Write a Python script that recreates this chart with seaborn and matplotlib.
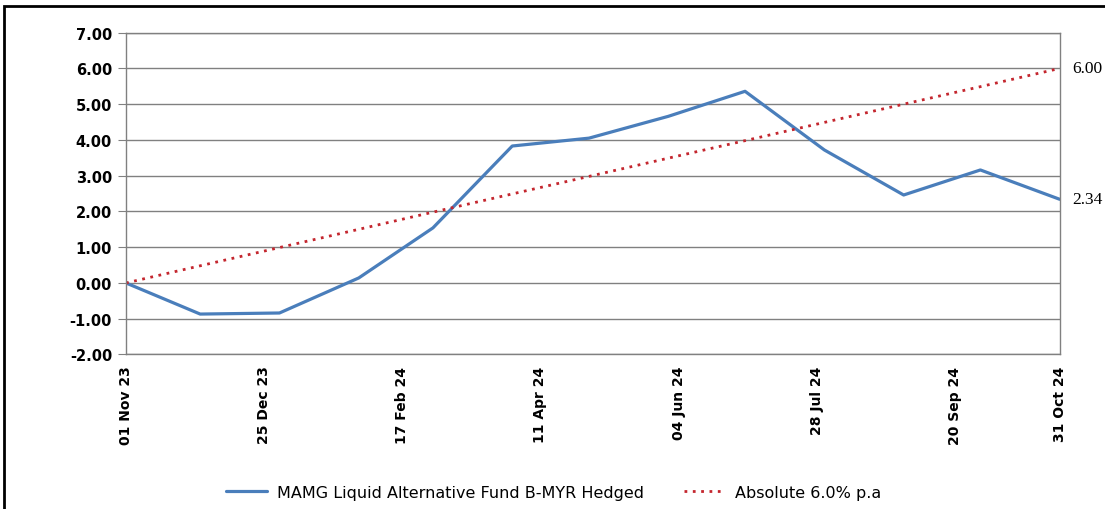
import matplotlib
matplotlib.use("Agg")
import matplotlib.pyplot as plt
import matplotlib.dates as mdates
from matplotlib.patches import Rectangle
import pandas as pd
import seaborn as sns

# data (month-end values, %)
dates = ["2023-11-01", "2023-11-30", "2023-12-31", "2024-01-31", "2024-02-29",
         "2024-03-31", "2024-04-30", "2024-05-31", "2024-06-30", "2024-07-31",
         "2024-08-31", "2024-09-30", "2024-10-31"]
fund = [0.00, -0.87, -0.84, 0.14, 1.54, 3.83, 4.05, 4.66, 5.36, 3.72, 2.46, 3.16, 2.34]
target = [0.00, 0.48, 0.99, 1.50, 1.98, 2.49, 2.98, 3.49, 3.98, 4.49, 5.00, 5.49, 6.00]

fund_name = "MAMG Liquid Alternative Fund B-MYR Hedged"
target_name = "Absolute 6.0% p.a"

tick_dates = ["2023-11-01", "2023-12-25", "2024-02-17", "2024-04-11",
              "2024-06-04", "2024-07-28", "2024-09-20", "2024-10-31"]
y_ticks = [-2, -1, 0, 1, 2, 3, 4, 5, 6, 7]

df = pd.DataFrame({"date": pd.to_datetime(dates), "fund": fund, "target": target})

sns.set_style("white")
plt.rcParams['font.family'] = ['DejaVu Sans']
plt.rcParams['text.color'] = 'black'
plt.rcParams['xtick.labelcolor'] = 'black'
plt.rcParams['ytick.labelcolor'] = 'black'

fig = plt.figure(figsize=(11.05, 5.1), dpi=100)
ax = fig.add_axes([0.114, 0.303, 0.845, 0.631])

sns.lineplot(data=df, x="date", y="fund", ax=ax, color="#4A7EBB", linewidth=2.3,
             label=fund_name)
sns.lineplot(data=df, x="date", y="target", ax=ax, color="#C4262E", linewidth=2.0,
             linestyle=(0, (1, 2.0)), label=target_name)

ax.set_xlim(df["date"].iloc[0], df["date"].iloc[-1])
ax.set_ylim(-2, 7)
ax.set_yticks(y_ticks)
ax.set_yticklabels([f"{v:.2f}" for v in y_ticks], fontsize=10.5, fontweight="bold",
                   family="DejaVu Sans")
ax.set_xticks(pd.to_datetime(tick_dates))
ax.xaxis.set_major_formatter(mdates.DateFormatter("%d %b %y"))
plt.setp(ax.get_xticklabels(), rotation=90, fontsize=10, fontweight="bold",
         family="DejaVu Sans")
ax.tick_params(axis="y", length=6, color="#808080", pad=4, direction="out", left=True)
ax.tick_params(axis="x", length=0, pad=8)
ax.grid(axis="y", color="#808080", linewidth=1.0)
ax.set_xlabel("")
ax.set_ylabel("")
for s in ax.spines.values():
    s.set_color("#808080")
    s.set_linewidth(1.0)

# end value labels on the right
ax.annotate(f"{target[-1]:.2f}", xy=(df["date"].iloc[-1], target[-1]), xytext=(9, 0),
            textcoords="offset points", va="center", ha="left",
            fontsize=12.5, family="Liberation Serif")
ax.annotate(f"{fund[-1]:.2f}", xy=(df["date"].iloc[-1], fund[-1]), xytext=(9, 0),
            textcoords="offset points", va="center", ha="left",
            fontsize=12.5, family="Liberation Serif")

ax.legend(loc="upper center", bbox_to_anchor=(0.458, -0.36), ncol=2, frameon=False,
          prop={"family": "DejaVu Sans", "size": 11.5},
          handlelength=2.6, columnspacing=2.5, handletextpad=0.6)

fig.patches.append(Rectangle((0.004, -0.1), 1.2, 1.086, transform=fig.transFigure,
                             fill=False, edgecolor="black", linewidth=2))

fig.savefig("out.png", dpi=100)
